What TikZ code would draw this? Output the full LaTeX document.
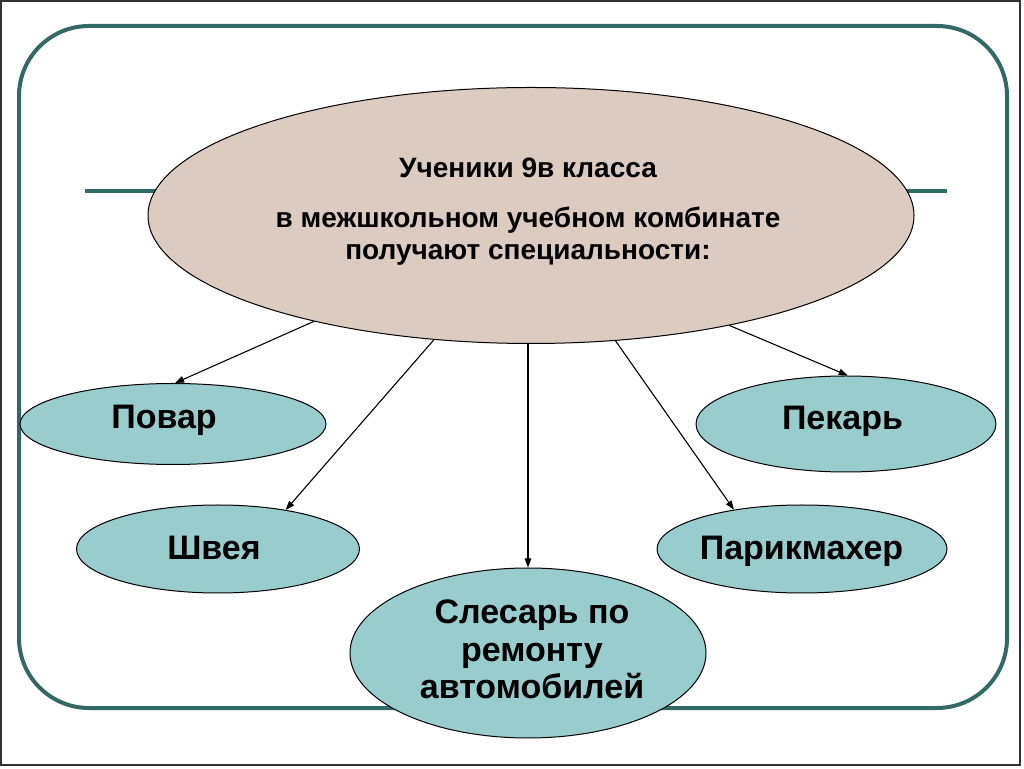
\documentclass[tikz,border=0pt]{standalone}
\usepackage{fontspec}
\setmainfont{Liberation Sans}
\usetikzlibrary{shapes.geometric,arrows.meta}
\definecolor{frameteal}{RGB}{51,105,100}
\definecolor{mainfill}{RGB}{219,203,193}
\definecolor{tealfill}{RGB}{153,204,204}
\begin{document}
\begin{tikzpicture}[x=1pt,y=1pt,
 bigoval/.style={ellipse, draw=black, line width=1pt, fill=mainfill, inner sep=0pt},
 oval/.style={ellipse, draw=black, line width=1pt, fill=tealfill, inner sep=0pt},
 lbl/.style={inner sep=0pt, font=\bfseries\fontsize{34}{37.5}\selectfont},
 mainlbl/.style={inner sep=0pt, align=center, font=\bfseries\fontsize{28}{32}\selectfont},
 arr/.style={line width=1.1pt, -{Triangle[length=9pt,width=6.5pt]}},
 tealline/.style={draw=frameteal, line width=4pt}]
\useasboundingbox (0,0) rectangle (1024,768);
\fill[white] (0,0) rectangle (1024,768);
\draw[line width=1.3pt, black!80] (1,3) rectangle (1020,767);
\draw[tealline, rounded corners=70pt] (19,60) rectangle (1007,742);
\draw[tealline] (85,576.5) -- (947,576.5);
\node[bigoval, minimum width=766pt, minimum height=256pt] (main) at (531,552.5) {};
\node[mainlbl, anchor=north] (maintext) at (528,610) {Ученики 9в класса\\[18pt]в межшкольном учебном комбинате\\получают специальности:};
\node[oval, minimum width=306pt, minimum height=81pt] (povar) at (173,344) {};
\node[oval, minimum width=283pt, minimum height=88pt] (shveya) at (218,219) {};
\node[oval, minimum width=356pt, minimum height=170pt] (sles) at (528,115) {};
\node[oval, minimum width=300pt, minimum height=96pt] (pekar) at (846,344) {};
\node[oval, minimum width=290pt, minimum height=88pt] (parik) at (802,219) {};
\node[lbl, anchor=base] (povarT) at (164,339.5) {Повар};
\node[lbl, anchor=base] (shveyaT) at (214,208) {Швея};
\node[lbl, anchor=base] (pekarT) at (842.5,338) {Пекарь};
\node[lbl, anchor=base] (parikT) at (801.5,208) {Парикмахер};
\node[lbl, align=center, anchor=north] (slesT) at (532,168) {Слесарь по\\ремонту\\автомобилей};
\draw[arr] (main.206) -- (povar.87);
\draw[arr] (main.232) -- (shveya.30);
\draw[arr] (sles.north |- main.south) -- (sles.north);
\draw[arr] (main.304) -- (parik.150);
\draw[arr] (main.331) -- (pekar.88);
\end{tikzpicture}
\end{document}
